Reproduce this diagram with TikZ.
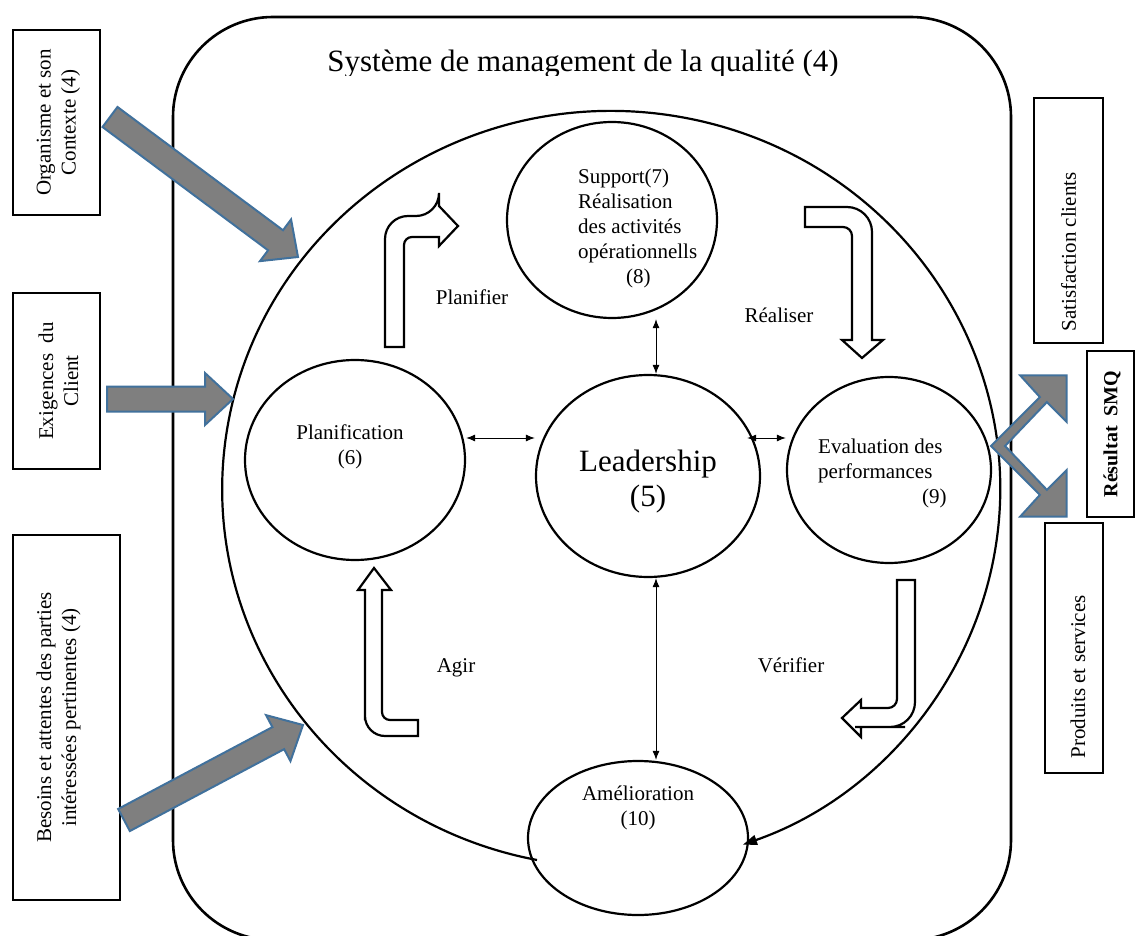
\documentclass[tikz,border=0pt]{standalone}
\usepackage{fontspec}
\setmainfont{Liberation Serif}
\usepackage{graphicx}
\usetikzlibrary{calc,arrows.meta,shapes.geometric}
\definecolor{gfill}{HTML}{7F7F7F}
\definecolor{gline}{HTML}{41719C}
\begin{document}
\begin{tikzpicture}[x=1pt,y=-1pt,
  bx/.style={draw, line width=1.2pt, inner sep=0pt},
  ell/.style={draw, ellipse, line width=2.2pt, inner sep=0pt},
  lbl/.style={font=\fontsize{21}{25}\selectfont, inner sep=0pt},
  garrow/.style={fill=gfill, draw=gline, line width=2pt, line join=miter},
  hollow/.style={draw, fill=white, line width=2.2pt, line join=miter},
  dbl/.style={line width=1pt, {Latex[length=9pt,width=7pt]}-{Latex[length=9pt,width=7pt]}},
]
\useasboundingbox (0,0) rectangle (1136,936);
\fill[white] (0,0) rectangle (1136,936);

% system frame
\draw[line width=2.6pt, rounded corners=100pt] (173,17) rectangle (1011,940);
\begin{scope}
\clip (0,0) rectangle (1136,76);
\node[font=\fontsize{31}{36}\selectfont, inner sep=0pt, anchor=base] (title) at (583,72) {Système de management de la qualité (4)};
\end{scope}

% big cycle
\draw[line width=2.2pt, -{Triangle[length=14pt,width=10pt]}] (537,860) arc[start angle=101, end angle=430.2, x radius=389, y radius=378];

% ellipses
\node[ell, minimum width=210pt, minimum height=196pt] (sup) at (612,220) {};
\node[ell, minimum width=220pt, minimum height=200pt] (plan) at (355,460) {};
\node[ell, minimum width=224pt, minimum height=202pt] (lead) at (648,476) {};
\node[ell, minimum width=204pt, minimum height=186pt] (eval) at (889,470) {};
\node[ell, minimum width=220pt, minimum height=154pt] (amel) at (638,838) {};

% ellipse texts
\node[lbl, anchor=north west, align=left] at (578,169) {Support(7)\\Réalisation\\des activités\\opérationnells\\\hspace*{48pt}(8)};
\node[lbl, align=center] at (350,447) {Planification\\(6)};
\node[inner sep=0pt, align=center, font=\fontsize{31}{35}\selectfont] at (648,482) {Leadership\\(5)};
\node[lbl, anchor=north west, align=left] at (818,439) {Evaluation des\\performances\\\hspace*{104pt}(9)};
\node[lbl, align=center] at (638,808) {Amélioration\\(10)};

% double arrows
\draw[dbl] (sup.south -| 656,0) -- (lead.north -| 656,0);
\draw[dbl] (lead.south -| 656,0) -- (amel.north -| 656,0);
\draw[dbl] (plan.east |- 0,438) -- (lead.west |- 0,438);
\draw[dbl] ($(lead.east |- 0,438)+(-14,0)$) -- (eval.west |- 0,438);

% cycle labels
\node[lbl, anchor=base] at (472,305) {Planifier};
\node[lbl, anchor=base] at (779,323) {Réaliser};
\node[lbl, anchor=base] at (791,672) {Vérifier};
\node[lbl, anchor=base] at (456,672) {Agir};

% hollow bent arrows
\draw[hollow] (385,347) -- (385,300) [rounded corners=23pt] -- (385,216) -- (439,216) [sharp corners] -- (439,206) -- (458,226) -- (439,246) -- (439,237) [rounded corners=8pt] -- (404,237) -- (404,300) [sharp corners] -- (404,347) -- cycle;
\draw[hollow] (805,207) -- (830,207) [rounded corners=25pt] -- (872,207) -- (872,290) [sharp corners] -- (872,340) -- (883,340) -- (862,358) -- (842,340) -- (852,340) -- (852,290) [rounded corners=9pt] -- (852,227) -- (830,227) [sharp corners] -- (805,227) -- cycle;
\draw[hollow] (897,580) -- (915,580) -- (915,680) [rounded corners=25pt] -- (915,727) -- (880,727) [sharp corners] -- (861,727) -- (861,737) -- (842,718) -- (861,700) -- (861,708) -- (880,708) [rounded corners=9pt] -- (897,708) -- (897,680) [sharp corners] -- (897,580) -- cycle;
\draw[hollow] (418,736) -- (400,736) [rounded corners=20pt] -- (365,736) -- (365,700) [sharp corners] -- (365,590) -- (358,590) -- (374,568) -- (391,590) -- (382,590) -- (382,700) [rounded corners=8pt] -- (382,720) -- (400,720) [sharp corners] -- (418,720) -- cycle;

% input boxes
\node[bx, minimum width=87pt, minimum height=185pt] (org) at (56.5,122.5) {};
\node[lbl, rotate=90, align=center] at ($(org.center)+(2,0)$) {\fontsize{21}{27}\selectfont Organisme et son\\Contexte (4)};
\node[bx, minimum width=87pt, minimum height=176pt] (exi) at (56.5,381) {};
\node[lbl, rotate=90, align=center] at ($(exi.center)+(2,0)$) {\fontsize{21}{27}\selectfont Exigences\ \ du\\Client};
\node[bx, minimum width=107pt, minimum height=365pt] (bes) at (66.5,717.5) {};
\node[lbl, rotate=90, align=center] at ($(bes.center)+(-8,0)$) {\fontsize{21}{27}\selectfont Besoins et attentes des parties\\intéressées pertinentes (4)};

% output boxes
\node[bx, minimum width=69pt, minimum height=245pt] (sat) at (1068.5,220.5) {};
\node[lbl, rotate=90] at (1068.5,252) {Satisfaction clients};
\node[bx, minimum width=47pt, minimum height=166pt] (res) at (1110.5,434) {};
\node[lbl, rotate=90, font=\fontsize{20}{24}\selectfont\bfseries] at (1112,434) {Résultat\ \ SMQ};
\node[bx, minimum width=58pt, minimum height=250pt] (pro) at (1074,648) {};
\node[lbl, rotate=90] at (1078,677) {Produits et services};

% grey input arrows
\coordinate (t1) at (110,117); \coordinate (p1) at (298,257);
\coordinate (t2) at (107,399); \coordinate (p2) at (233,399);
\coordinate (t3) at (124,820); \coordinate (p3) at (303,725);
\foreach \t/\p in {t1/p1,t2/p2,t3/p3}{
  \coordinate (bm) at ($(\p)!28pt!(\t)$);
  \draw[garrow] ($(\t)!12.5pt!90:(\p)$) -- ($(bm)!12.5pt!90:(\p)$) -- ($(bm)!26pt!90:(\p)$) -- (\p)
     -- ($(bm)!26pt!-90:(\p)$) -- ($(bm)!12.5pt!-90:(\p)$) -- ($(\t)!12.5pt!-90:(\p)$) -- cycle;
}

% grey output double arrow
\draw[garrow] (991,446) -- (1039.9,397.1) -- (1020.1,375.3) -- (1066.7,375.3) -- (1066.7,421.9) -- (1046.9,402.1) -- (1005,446)
  -- (1046.9,489.9) -- (1066.7,470.1) -- (1066.7,516.7) -- (1020.1,516.7) -- (1039.9,494.9) -- cycle;
\end{tikzpicture}
\end{document}
